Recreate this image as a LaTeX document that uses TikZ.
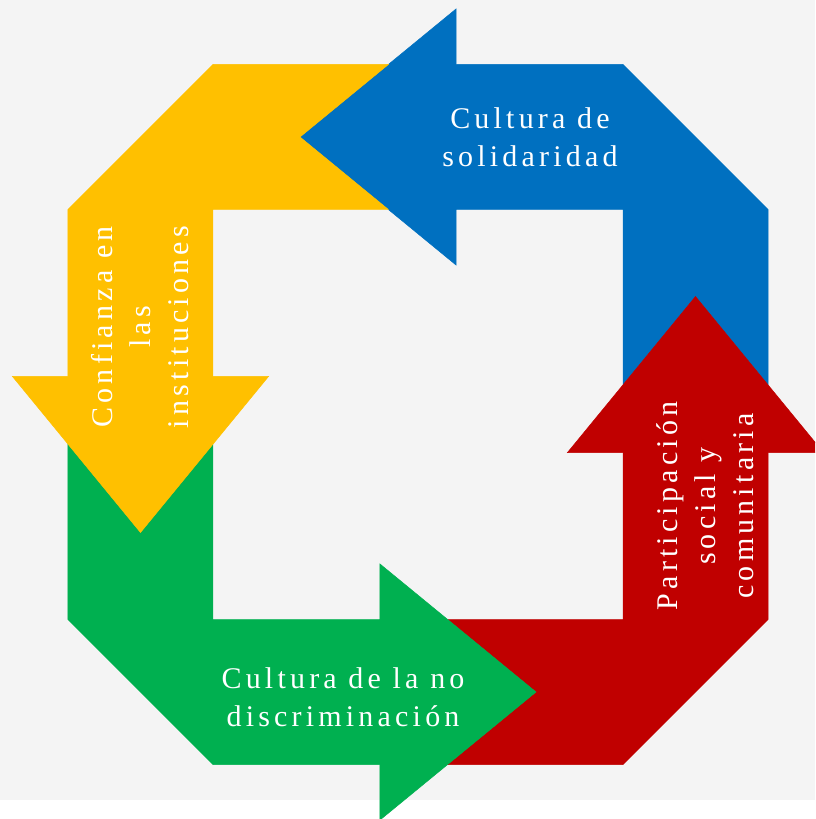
\documentclass[tikz,border=0pt]{standalone}
\usepackage{fontspec}
\setmainfont{Liberation Serif}
\usepackage{tikz}
\definecolor{fondo}{RGB}{244,244,244}
\definecolor{azul}{RGB}{0,112,192}
\definecolor{amarillo}{RGB}{255,192,0}
\definecolor{verde}{RGB}{0,176,80}
\definecolor{rojo}{RGB}{192,0,0}

\begin{document}
\begin{tikzpicture}[x=1pt, y=1pt,
  flecha/.style={fill=#1, draw=#1, line width=0.5pt},
  etiqueta/.style={text=white, align=center, inner sep=0pt,
    font=\fontsize{30}{38}\selectfont\addfontfeature{LetterSpace=14}}]
  \useasboundingbox (-418,-404.5) rectangle (397,414.5);
  \clip (-418,-404.5) rectangle (397,414.5);
  \fill[white] (-418,-404.5) rectangle (397,414.5);
  \fill[fondo] (-418,-385.5) rectangle (397,414.5);
  \foreach \ang/\col in {0/azul,-90/rojo,-180/verde,-270/amarillo}
    \path[flecha=\col, rotate=\ang] (-118,277.5) -- (38,405.5) -- (38,350)
      -- (205,350) -- (350,205) -- (350,29.64) -- (277.5,118) -- (205,29.64)
      -- (205,205) -- (38,205) -- (38,149.5) -- cycle;
  \node[etiqueta] (solidaridad) at (112,277.5) {Cultura de\\solidaridad};
  \node[etiqueta, rotate=90] (participacion) at (287,-91.5) {Participación\\social y\\comunitaria};
  \node[etiqueta] (discriminacion) at (-75,-282.5) {Cultura de la no\\discriminación};
  \node[etiqueta, rotate=90] (confianza) at (-278,87.5) {Confianza en\\las\\instituciones};
\end{tikzpicture}
\end{document}
